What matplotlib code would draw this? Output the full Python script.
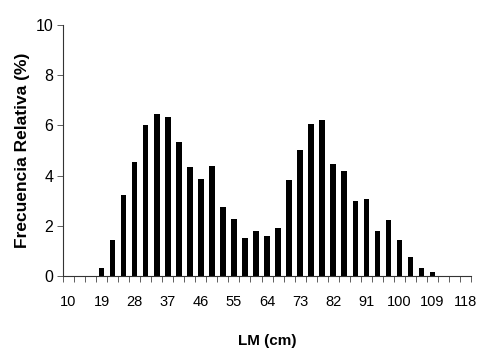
import numpy as np
import matplotlib.pyplot as plt

# LM classes (cm), every 3 cm
lm = list(range(10, 119, 3))
freq = [0, 0, 0, 0.32, 1.45, 3.24, 4.53, 6.02, 6.47, 6.34,
        5.35, 4.33, 3.87, 4.37, 2.76, 2.27, 1.50, 1.78, 1.58, 1.92,
        3.84, 5.01, 6.07, 6.23, 4.45, 4.18, 2.97, 3.05, 1.78, 2.22,
        1.45, 0.76, 0.32, 0.16, 0, 0, 0]

font = ['Liberation Sans', 'DejaVu Sans']

fig = plt.figure(figsize=(4.79, 3.5), dpi=100)
ax = fig.add_axes([0.1315, 0.2114, 0.852, 0.7172])

x = np.arange(len(lm))
ax.bar(x, freq, width=0.5, color='black')

ax.set_xlim(-0.5, len(lm) - 0.5)
ax.set_ylim(0, 10)

# labels every 3rd class, small ticks at every class boundary
ax.set_xticks(x[::3])
ax.set_xticklabels([str(v) for v in lm[::3]], family=font, fontsize=10.5)
ax.set_xticks(np.arange(len(lm) + 1) - 0.5, minor=True)
ax.tick_params(axis='x', which='major', length=0, pad=14)
ax.tick_params(axis='x', which='minor', length=4, width=0.6, color='#444444')

ax.set_yticks([0, 2, 4, 6, 8, 10])
ax.set_yticklabels(['0', '2', '4', '6', '8', '10'], family=font, fontsize=11.5)
ax.tick_params(axis='y', length=4, width=0.6, color='#444444', pad=3)

for s in ['top', 'right']:
    ax.spines[s].set_visible(False)
for s in ['left', 'bottom']:
    ax.spines[s].set_linewidth(0.8)
    ax.spines[s].set_color('#333333')

ax.set_xlabel('LM (cm)', fontsize=11, fontweight='bold', family=font, labelpad=18)
ax.set_ylabel('Frecuencia Relativa (%)', fontsize=12.5, fontweight='bold', family=font, labelpad=4)

fig.savefig('out.png', dpi=100)
